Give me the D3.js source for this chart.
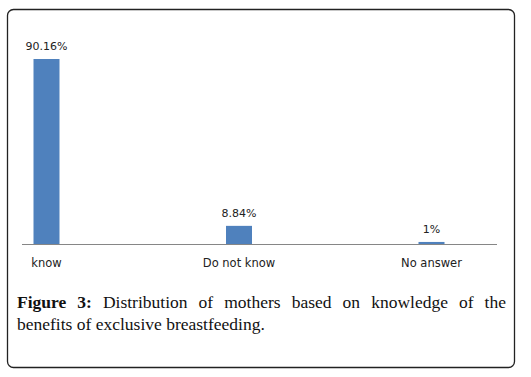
<!DOCTYPE html>
<html>
<head>
<meta charset="utf-8">
<script src="https://cdn.jsdelivr.net/npm/d3@7"></script>
<style>
  body { margin: 0; background: #fff; }
</style>
</head>
<body>
<div id="chart"></div>
<script>
const categories = ["know", "Do not know", "No answer"];
const values = [90.16, 8.84, 1];
const valueLabels = ["90.16%", "8.84%", "1%"];
const captionBold = "Figure 3:";
const captionLines = [
    "Distribution of mothers based on knowledge of the",
    "benefits of exclusive breastfeeding."
];

const width = 531;
const height = 377;
const baseline = 244;

const svg = d3.select("#chart")
    .append("svg")
    .attr("width", width)
    .attr("height", height);

// frame
svg.append("rect")
    .attr("x", 7.5)
    .attr("y", 9.5)
    .attr("width", 507)
    .attr("height", 358)
    .attr("rx", 6)
    .style("fill", "none")
    .style("stroke", "#222")
    .style("stroke-width", 1.3);

const xScale = d3.scalePoint()
    .domain(categories)
    .range([46.5, 431.5]);

const yScale = d3.scaleLinear()
    .domain([0, 90.16])
    .range([baseline, 59]);

const barWidth = 26;

svg.selectAll("rect.bar")
    .data(values)
    .join("rect")
    .attr("class", "bar")
    .attr("x", (d, i) => xScale(categories[i]) - barWidth / 2)
    .attr("y", d => yScale(d))
    .attr("width", barWidth)
    .attr("height", d => baseline - yScale(d))
    .style("fill", "#4F81BD");

// axis line
svg.append("line")
    .attr("x1", 22)
    .attr("x2", 497)
    .attr("y1", baseline + 0.5)
    .attr("y2", baseline + 0.5)
    .style("stroke", "#868686")
    .style("stroke-width", 1);

svg.selectAll("text.val")
    .data(values)
    .join("text")
    .attr("class", "val")
    .attr("x", (d, i) => xScale(categories[i]))
    .attr("y", d => yScale(d) - 9)
    .attr("text-anchor", "middle")
    .style("font-family", "DejaVu Sans")
    .style("font-size", "11px")
    .style("fill", "#222")
    .text((d, i) => valueLabels[i]);

svg.selectAll("text.cat")
    .data(categories)
    .join("text")
    .attr("class", "cat")
    .attr("x", d => xScale(d))
    .attr("y", 267)
    .attr("text-anchor", "middle")
    .style("font-family", "DejaVu Sans")
    .style("font-size", "11.5px")
    .style("fill", "#222")
    .text(d => d);

// caption, first line justified word by word
const capLeft = 17, capRight = 506;
const cap = svg.append("g")
    .style("font-family", "Liberation Serif")
    .style("font-size", "17.5px")
    .style("fill", "#111");

const words1 = captionBold.split(" ").concat(captionLines[0].split(" "));
const nodes = words1.map((w, i) => cap.append("text")
    .attr("y", 308)
    .style("font-weight", i < 2 ? "bold" : "normal")
    .text(w));
const widths = nodes.map(n => n.node().getComputedTextLength());
const gap = (capRight - capLeft - d3.sum(widths)) / (words1.length - 1);
let cx = capLeft;
nodes.forEach((n, i) => {
    n.attr("x", cx);
    cx += widths[i] + gap;
});

cap.append("text")
    .attr("x", capLeft)
    .attr("y", 330)
    .text(captionLines[1]);
</script>
</body>
</html>
